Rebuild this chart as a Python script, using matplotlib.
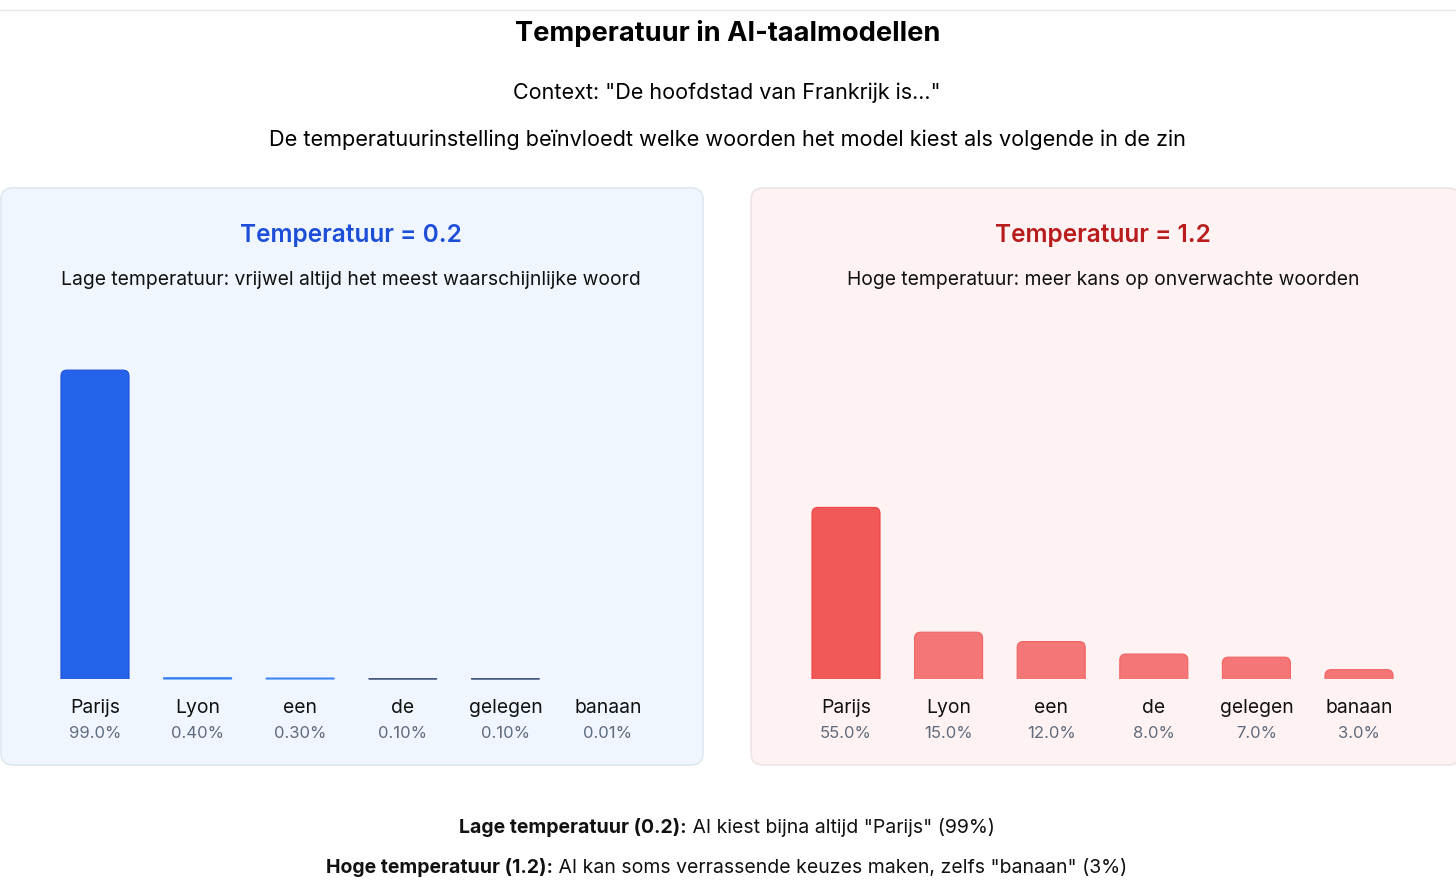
import numpy as np
import matplotlib
matplotlib.use("Agg")
import matplotlib.pyplot as plt
from matplotlib.patches import FancyBboxPatch, Rectangle

plt.rcParams['font.family'] = ['Inter', 'DejaVu Sans']

W, H = 1456, 893

words = ["Parijs", "Lyon", "een", "de", "gelegen", "banaan"]
low_vals = [99.0, 0.4, 0.3, 0.1, 0.1, 0.01]
low_labels = ["99.0%", "0.40%", "0.30%", "0.10%", "0.10%", "0.01%"]
high_vals = [55.0, 15.0, 12.0, 8.0, 7.0, 3.0]
high_labels = ["55.0%", "15.0%", "12.0%", "8.0%", "7.0%", "3.0%"]

title = "Temperatuur in AI-taalmodellen"
context = 'Context: "De hoofdstad van Frankrijk is..."'
subtitle = "De temperatuurinstelling beïnvloedt welke woorden het model kiest als volgende in de zin"

fig = plt.figure(figsize=(W / 100, H / 100), dpi=100)
fig.patch.set_facecolor("white")

# background axes in pixel coords
bg = fig.add_axes([0, 0, 1, 1])
bg.set_xlim(0, W)
bg.set_ylim(H, 0)
bg.axis("off")

bg.plot([0, W], [10, 10], color="#e5e7eb", lw=1)

bg.text(728, 41, title, ha="center", va="baseline", fontsize=19.6, fontweight="bold", color="#000000")
bg.text(727, 99, context, ha="center", va="baseline", fontsize=15.5, color="#000000")
bg.text(727, 146, subtitle, ha="center", va="baseline", fontsize=15.6, color="#000000")

# panels
panels = [
    dict(x0=1, x1=703, face="#eff6ff", edge="#dfe7f1"),
    dict(x0=751, x1=1460, face="#fef2f2", edge="#eee4e6"),
]
for p in panels:
    bg.add_patch(FancyBboxPatch((p["x0"], 188), p["x1"] - p["x0"], 765 - 188,
                                boxstyle="round,pad=0,rounding_size=12",
                                facecolor=p["face"], edgecolor=p["edge"], lw=1.2))

bg.text(351, 242, "Temperatuur = 0.2", ha="center", va="baseline", fontsize=17.6,
        fontweight="semibold", color="#1d4ed8")
bg.text(351, 285, "Lage temperatuur: vrijwel altijd het meest waarschijnlijke woord",
        ha="center", va="baseline", fontsize=13.9, color="#111111")
bg.text(1103, 242, "Temperatuur = 1.2", ha="center", va="baseline", fontsize=17.6,
        fontweight="semibold", color="#b91c1c")
bg.text(1103, 285, "Hoge temperatuur: meer kans op onverwachte woorden",
        ha="center", va="baseline", fontsize=13.9, color="#111111")


def bar_panel(left_px, vals, labels, colors, edges):
    ax = fig.add_axes([left_px / W, (H - 679) / H, 615.6 / W, 312 / H])
    ax.set_xlim(-0.5, 5.5)
    ax.set_ylim(0, 100)
    ax.axis("off")
    ax.patch.set_alpha(0)
    bars = ax.bar(range(len(vals)), vals, width=0.663, color=colors, edgecolor="none")
    # rounded tops: replace tall bars with round-cornered boxes clipped at the baseline
    asp = (615.6 / 6) / 3.12
    r = 6 / (615.6 / 6)
    for b, c, e in zip(bars, colors, edges):
        h = b.get_height()
        if h * 3.12 > 8:
            b.set_visible(False)
            ax.add_patch(FancyBboxPatch((b.get_x(), -5), b.get_width(), h + 5,
                                        boxstyle=f"round,pad=0,rounding_size={r}",
                                        mutation_aspect=asp, facecolor=c, edgecolor=e,
                                        linewidth=0.8, clip_on=True))
        elif h >= 0.05:
            # very thin bars still show as a hairline
            b.set_edgecolor("#4a5a80" if h < 0.2 else "#3b82f6")
            b.set_linewidth(0.8)
            b.set_snap(False)
            b.set_clip_on(False)
    for i, (w, lab) in enumerate(zip(words, labels)):
        ax.annotate(w, (i, 0), xytext=(0, -24.5), textcoords="offset points",
                    ha="center", va="baseline", fontsize=13.9, color="#111111",
                    annotation_clip=False)
        ax.annotate(lab, (i, 0), xytext=(0, -42.5), textcoords="offset points",
                    ha="center", va="baseline", fontsize=12, color="#5f6b7d",
                    annotation_clip=False)
    return ax


bar_panel(43.7, low_vals, low_labels, ["#2563eb"] * 6, ["#1d4ed8"] * 6)
bar_panel(794.7, high_vals, high_labels, ["#f15959"] + ["#f47676"] * 5,
          ["#ef4444"] + ["#f26464"] * 5)

# bottom notes with bold lead-in
fig.canvas.draw()
renderer = fig.canvas.get_renderer()
notes = [
    (833, "Lage temperatuur (0.2):", ' AI kiest bijna altijd "Parijs" (99%)'),
    (873, "Hoge temperatuur (1.2):", ' AI kan soms verrassende keuzes maken, zelfs "banaan" (3%)'),
]
for y, bold, rest in notes:
    t1 = bg.text(0, y, bold, ha="left", va="baseline", fontsize=14, fontweight="bold", color="#111111")
    t2 = bg.text(0, y, rest, ha="left", va="baseline", fontsize=14, color="#111111")
    w1 = t1.get_window_extent(renderer).width
    w2 = t2.get_window_extent(renderer).width
    x0 = 727 - (w1 + w2) / 2
    t1.set_x(x0)
    t2.set_x(x0 + w1)

fig.savefig("out.png", dpi=100, facecolor="white")
